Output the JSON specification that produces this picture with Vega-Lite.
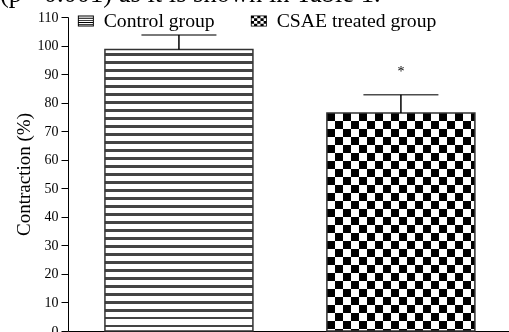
{
  "$schema": "https://vega.github.io/schema/vega-lite/v6.json",
  "autosize": "none",
  "width": 441,
  "height": 314,
  "padding": {"left": 68, "top": 17, "right": 0, "bottom": 1},
  "background": "white",
  "config": {"view": {"stroke": null}},
  "title": {
    "text": "(p <0.001) as it is shown in Table 1.",
    "anchor": "start",
    "frame": "group",
    "orient": "top",
    "offset": 0,
    "dx": -68,
    "dy": 23,
    "baseline": "alphabetic",
    "font": "Liberation Serif",
    "fontSize": 26.5,
    "fontWeight": "normal",
    "color": "#000"
  },
  "data": {
    "values": [
      {"group": "Control group", "value": 98.6, "upper": 103.7, "sig": ""},
      {"group": "CSAE treated group", "value": 76.4, "upper": 82.8, "sig": "*"}
    ]
  },
  "encoding": {
    "x": {
      "field": "group",
      "type": "nominal",
      "sort": ["Control group", "CSAE treated group"],
      "scale": {"paddingInner": 0.33333, "paddingOuter": 0.16, "align": 0.52},
      "axis": {"title": null, "labels": false, "ticks": false, "domainColor": "#000", "domainWidth": 1}
    },
    "y": {
      "field": "value",
      "type": "quantitative",
      "title": "Contraction (%)",
      "scale": {"domain": [0, 110], "nice": false, "zero": true},
      "axis": {
        "values": [0, 10, 20, 30, 40, 50, 60, 70, 80, 90, 100, 110],
        "grid": false,
        "domainColor": "#000",
        "tickColor": "#000",
        "tickSize": 7,
        "labelFlush": false,
        "labelFont": "Liberation Serif",
        "labelFontSize": 14,
        "labelColor": "#000",
        "labelPadding": 3,
        "titleFont": "Liberation Serif",
        "titleFontSize": 19,
        "titleFontWeight": "normal",
        "titleColor": "#000",
        "titlePadding": 4
      }
    }
  },
  "layer": [
    {
      "transform": [{"filter": "datum.group === 'Control group'"}],
      "mark": {
        "type": "bar",
        "stroke": "#333",
        "strokeWidth": 1.5,
        "color": {
          "gradient": "linear", "x1": 0, "y1": 0, "x2": 0, "y2": 1,
          "stops": [
            {"offset": 0, "color": "#fff"},
            {"offset": 0.01243, "color": "#fff"}, {"offset": 0.01243, "color": "#444"}, {"offset": 0.02131, "color": "#444"}, {"offset": 0.02131, "color": "#fff"},
            {"offset": 0.04085, "color": "#fff"}, {"offset": 0.04085, "color": "#444"}, {"offset": 0.04973, "color": "#444"}, {"offset": 0.04973, "color": "#fff"},
            {"offset": 0.06927, "color": "#fff"}, {"offset": 0.06927, "color": "#444"}, {"offset": 0.07815, "color": "#444"}, {"offset": 0.07815, "color": "#fff"},
            {"offset": 0.09769, "color": "#fff"}, {"offset": 0.09769, "color": "#444"}, {"offset": 0.10657, "color": "#444"}, {"offset": 0.10657, "color": "#fff"},
            {"offset": 0.12611, "color": "#fff"}, {"offset": 0.12611, "color": "#444"}, {"offset": 0.13499, "color": "#444"}, {"offset": 0.13499, "color": "#fff"},
            {"offset": 0.15453, "color": "#fff"}, {"offset": 0.15453, "color": "#444"}, {"offset": 0.16341, "color": "#444"}, {"offset": 0.16341, "color": "#fff"},
            {"offset": 0.18295, "color": "#fff"}, {"offset": 0.18295, "color": "#444"}, {"offset": 0.19183, "color": "#444"}, {"offset": 0.19183, "color": "#fff"},
            {"offset": 0.21137, "color": "#fff"}, {"offset": 0.21137, "color": "#444"}, {"offset": 0.22025, "color": "#444"}, {"offset": 0.22025, "color": "#fff"},
            {"offset": 0.23979, "color": "#fff"}, {"offset": 0.23979, "color": "#444"}, {"offset": 0.24867, "color": "#444"}, {"offset": 0.24867, "color": "#fff"},
            {"offset": 0.26821, "color": "#fff"}, {"offset": 0.26821, "color": "#444"}, {"offset": 0.27709, "color": "#444"}, {"offset": 0.27709, "color": "#fff"},
            {"offset": 0.29662, "color": "#fff"}, {"offset": 0.29662, "color": "#444"}, {"offset": 0.3055, "color": "#444"}, {"offset": 0.3055, "color": "#fff"},
            {"offset": 0.32504, "color": "#fff"}, {"offset": 0.32504, "color": "#444"}, {"offset": 0.33392, "color": "#444"}, {"offset": 0.33392, "color": "#fff"},
            {"offset": 0.35346, "color": "#fff"}, {"offset": 0.35346, "color": "#444"}, {"offset": 0.36234, "color": "#444"}, {"offset": 0.36234, "color": "#fff"},
            {"offset": 0.38188, "color": "#fff"}, {"offset": 0.38188, "color": "#444"}, {"offset": 0.39076, "color": "#444"}, {"offset": 0.39076, "color": "#fff"},
            {"offset": 0.4103, "color": "#fff"}, {"offset": 0.4103, "color": "#444"}, {"offset": 0.41918, "color": "#444"}, {"offset": 0.41918, "color": "#fff"},
            {"offset": 0.43872, "color": "#fff"}, {"offset": 0.43872, "color": "#444"}, {"offset": 0.4476, "color": "#444"}, {"offset": 0.4476, "color": "#fff"},
            {"offset": 0.46714, "color": "#fff"}, {"offset": 0.46714, "color": "#444"}, {"offset": 0.47602, "color": "#444"}, {"offset": 0.47602, "color": "#fff"},
            {"offset": 0.49556, "color": "#fff"}, {"offset": 0.49556, "color": "#444"}, {"offset": 0.50444, "color": "#444"}, {"offset": 0.50444, "color": "#fff"},
            {"offset": 0.52398, "color": "#fff"}, {"offset": 0.52398, "color": "#444"}, {"offset": 0.53286, "color": "#444"}, {"offset": 0.53286, "color": "#fff"},
            {"offset": 0.5524, "color": "#fff"}, {"offset": 0.5524, "color": "#444"}, {"offset": 0.56128, "color": "#444"}, {"offset": 0.56128, "color": "#fff"},
            {"offset": 0.58081, "color": "#fff"}, {"offset": 0.58081, "color": "#444"}, {"offset": 0.58969, "color": "#444"}, {"offset": 0.58969, "color": "#fff"},
            {"offset": 0.60923, "color": "#fff"}, {"offset": 0.60923, "color": "#444"}, {"offset": 0.61811, "color": "#444"}, {"offset": 0.61811, "color": "#fff"},
            {"offset": 0.63765, "color": "#fff"}, {"offset": 0.63765, "color": "#444"}, {"offset": 0.64653, "color": "#444"}, {"offset": 0.64653, "color": "#fff"},
            {"offset": 0.66607, "color": "#fff"}, {"offset": 0.66607, "color": "#444"}, {"offset": 0.67495, "color": "#444"}, {"offset": 0.67495, "color": "#fff"},
            {"offset": 0.69449, "color": "#fff"}, {"offset": 0.69449, "color": "#444"}, {"offset": 0.70337, "color": "#444"}, {"offset": 0.70337, "color": "#fff"},
            {"offset": 0.72291, "color": "#fff"}, {"offset": 0.72291, "color": "#444"}, {"offset": 0.73179, "color": "#444"}, {"offset": 0.73179, "color": "#fff"},
            {"offset": 0.75133, "color": "#fff"}, {"offset": 0.75133, "color": "#444"}, {"offset": 0.76021, "color": "#444"}, {"offset": 0.76021, "color": "#fff"},
            {"offset": 0.77975, "color": "#fff"}, {"offset": 0.77975, "color": "#444"}, {"offset": 0.78863, "color": "#444"}, {"offset": 0.78863, "color": "#fff"},
            {"offset": 0.80817, "color": "#fff"}, {"offset": 0.80817, "color": "#444"}, {"offset": 0.81705, "color": "#444"}, {"offset": 0.81705, "color": "#fff"},
            {"offset": 0.83659, "color": "#fff"}, {"offset": 0.83659, "color": "#444"}, {"offset": 0.84547, "color": "#444"}, {"offset": 0.84547, "color": "#fff"},
            {"offset": 0.865, "color": "#fff"}, {"offset": 0.865, "color": "#444"}, {"offset": 0.87388, "color": "#444"}, {"offset": 0.87388, "color": "#fff"},
            {"offset": 0.89342, "color": "#fff"}, {"offset": 0.89342, "color": "#444"}, {"offset": 0.9023, "color": "#444"}, {"offset": 0.9023, "color": "#fff"},
            {"offset": 0.92184, "color": "#fff"}, {"offset": 0.92184, "color": "#444"}, {"offset": 0.93072, "color": "#444"}, {"offset": 0.93072, "color": "#fff"},
            {"offset": 0.95026, "color": "#fff"}, {"offset": 0.95026, "color": "#444"}, {"offset": 0.95914, "color": "#444"}, {"offset": 0.95914, "color": "#fff"},
            {"offset": 0.97868, "color": "#fff"}, {"offset": 0.97868, "color": "#444"}, {"offset": 0.98756, "color": "#444"}, {"offset": 0.98756, "color": "#fff"},
            {"offset": 1, "color": "#fff"}
          ]
        }
      }
    },
    {
      "transform": [{"filter": "datum.group === 'CSAE treated group'"}],
      "mark": {
        "type": "bar",
        "strokeWidth": 0,
        "color": {
          "gradient": "linear", "x1": 0, "y1": 0, "x2": 0, "y2": 1,
          "stops": [
            {"offset": 0, "color": "#fff"},
            {"offset": 0.03668, "color": "#fff"}, {"offset": 0.03668, "color": "#000"},
            {"offset": 0.07336, "color": "#000"}, {"offset": 0.07336, "color": "#fff"},
            {"offset": 0.11004, "color": "#fff"}, {"offset": 0.11004, "color": "#000"},
            {"offset": 0.14672, "color": "#000"}, {"offset": 0.14672, "color": "#fff"},
            {"offset": 0.18341, "color": "#fff"}, {"offset": 0.18341, "color": "#000"},
            {"offset": 0.22009, "color": "#000"}, {"offset": 0.22009, "color": "#fff"},
            {"offset": 0.25677, "color": "#fff"}, {"offset": 0.25677, "color": "#000"},
            {"offset": 0.29345, "color": "#000"}, {"offset": 0.29345, "color": "#fff"},
            {"offset": 0.33013, "color": "#fff"}, {"offset": 0.33013, "color": "#000"},
            {"offset": 0.36681, "color": "#000"}, {"offset": 0.36681, "color": "#fff"},
            {"offset": 0.40349, "color": "#fff"}, {"offset": 0.40349, "color": "#000"},
            {"offset": 0.44017, "color": "#000"}, {"offset": 0.44017, "color": "#fff"},
            {"offset": 0.47685, "color": "#fff"}, {"offset": 0.47685, "color": "#000"},
            {"offset": 0.51353, "color": "#000"}, {"offset": 0.51353, "color": "#fff"},
            {"offset": 0.55022, "color": "#fff"}, {"offset": 0.55022, "color": "#000"},
            {"offset": 0.5869, "color": "#000"}, {"offset": 0.5869, "color": "#fff"},
            {"offset": 0.62358, "color": "#fff"}, {"offset": 0.62358, "color": "#000"},
            {"offset": 0.66026, "color": "#000"}, {"offset": 0.66026, "color": "#fff"},
            {"offset": 0.69694, "color": "#fff"}, {"offset": 0.69694, "color": "#000"},
            {"offset": 0.73362, "color": "#000"}, {"offset": 0.73362, "color": "#fff"},
            {"offset": 0.7703, "color": "#fff"}, {"offset": 0.7703, "color": "#000"},
            {"offset": 0.80698, "color": "#000"}, {"offset": 0.80698, "color": "#fff"},
            {"offset": 0.84366, "color": "#fff"}, {"offset": 0.84366, "color": "#000"},
            {"offset": 0.88034, "color": "#000"}, {"offset": 0.88034, "color": "#fff"},
            {"offset": 0.91703, "color": "#fff"}, {"offset": 0.91703, "color": "#000"},
            {"offset": 0.95371, "color": "#000"}, {"offset": 0.95371, "color": "#fff"},
            {"offset": 0.99039, "color": "#fff"}, {"offset": 0.99039, "color": "#000"},
            {"offset": 1, "color": "#000"}
          ]
        }
      }
    },
    {
      "transform": [{"filter": "datum.group === 'CSAE treated group'"}],
      "mark": {
        "type": "bar",
        "strokeWidth": 0,
        "blend": "difference",
        "color": {
          "gradient": "linear", "x1": 0, "y1": 0, "x2": 1, "y2": 0,
          "stops": [
            {"offset": 0, "color": "#fff"},
            {"offset": 0.05405, "color": "#fff"}, {"offset": 0.05405, "color": "#000"},
            {"offset": 0.10811, "color": "#000"}, {"offset": 0.10811, "color": "#fff"},
            {"offset": 0.16216, "color": "#fff"}, {"offset": 0.16216, "color": "#000"},
            {"offset": 0.21622, "color": "#000"}, {"offset": 0.21622, "color": "#fff"},
            {"offset": 0.27027, "color": "#fff"}, {"offset": 0.27027, "color": "#000"},
            {"offset": 0.32432, "color": "#000"}, {"offset": 0.32432, "color": "#fff"},
            {"offset": 0.37838, "color": "#fff"}, {"offset": 0.37838, "color": "#000"},
            {"offset": 0.43243, "color": "#000"}, {"offset": 0.43243, "color": "#fff"},
            {"offset": 0.48649, "color": "#fff"}, {"offset": 0.48649, "color": "#000"},
            {"offset": 0.54054, "color": "#000"}, {"offset": 0.54054, "color": "#fff"},
            {"offset": 0.59459, "color": "#fff"}, {"offset": 0.59459, "color": "#000"},
            {"offset": 0.64865, "color": "#000"}, {"offset": 0.64865, "color": "#fff"},
            {"offset": 0.7027, "color": "#fff"}, {"offset": 0.7027, "color": "#000"},
            {"offset": 0.75676, "color": "#000"}, {"offset": 0.75676, "color": "#fff"},
            {"offset": 0.81081, "color": "#fff"}, {"offset": 0.81081, "color": "#000"},
            {"offset": 0.86486, "color": "#000"}, {"offset": 0.86486, "color": "#fff"},
            {"offset": 0.91892, "color": "#fff"}, {"offset": 0.91892, "color": "#000"},
            {"offset": 0.97297, "color": "#000"}, {"offset": 0.97297, "color": "#fff"},
            {"offset": 1, "color": "#fff"}
          ]
        }
      }
    },
    {
      "transform": [{"filter": "datum.group === 'CSAE treated group'"}],
      "mark": {"type": "bar", "fill": "#fff", "fillOpacity": 0, "stroke": "#333", "strokeWidth": 1.5}
    },
    {
      "mark": {"type": "rule", "color": "#000", "strokeWidth": 1.5},
      "encoding": {
        "y": {"field": "value", "type": "quantitative", "title": "Contraction (%)"},
        "y2": {"field": "upper"}
      }
    },
    {
      "mark": {"type": "tick", "color": "#000", "size": 75, "thickness": 1.5},
      "encoding": {
        "y": {"field": "upper", "type": "quantitative", "title": "Contraction (%)"}
      }
    },
    {
      "mark": {"type": "text", "color": "#000", "font": "Liberation Serif", "fontSize": 14, "baseline": "alphabetic", "dy": -18.5},
      "encoding": {
        "y": {"field": "upper", "type": "quantitative", "title": "Contraction (%)"},
        "text": {"field": "sig"}
      }
    },
    {
      "mark": {"type": "point", "filled": true, "color": "#000", "opacity": 0},
      "encoding": {
        "shape": {
          "field": "group",
          "type": "nominal",
          "scale": {
            "domain": ["Control group", "CSAE treated group"],
            "range": [
              "M-1,-0.69h2v0.12h-2z M-1,-0.42h2v0.12h-2z M-1,-0.15h2v0.12h-2z M-1,0.12h2v0.12h-2z M-1,0.39h2v0.12h-2z M-1,0.57h2v0.12h-2z M-1,-0.69h0.12v1.38h-0.12z M0.88,-0.69h0.12v1.38h-0.12z",
              "M-1,-0.69h0.4v0.345h-0.4z M-0.2,-0.69h0.4v0.345h-0.4z M0.6,-0.69h0.4v0.345h-0.4z M-0.6,-0.345h0.4v0.345h-0.4z M0.2,-0.345h0.4v0.345h-0.4z M-1,0h0.4v0.345h-0.4z M-0.2,0h0.4v0.345h-0.4z M0.6,0h0.4v0.345h-0.4z M-0.6,0.345h0.4v0.345h-0.4z M0.2,0.345h0.4v0.345h-0.4z M-1,-0.69h2v0.1h-2z M-1,0.59h2v0.1h-2z M-1,-0.69h0.1v1.38h-0.1z M0.9,-0.69h0.1v1.38h-0.1z"
            ]
          },
          "legend": {
            "orient": "none",
            "legendX": 8,
            "legendY": -6,
            "direction": "horizontal",
            "title": null,
            "symbolSize": 256,
            "symbolOpacity": 1,
            "symbolFillColor": "#000",
            "symbolStrokeWidth": 0,
            "labelFont": "Liberation Serif",
            "labelFontSize": 19.7,
            "labelColor": "#000",
            "labelOffset": 8,
            "labelLimit": 300,
            "columnPadding": 34,
            "padding": 0,
            "symbolType": "square"
          }
        }
      }
    }
  ]
}
